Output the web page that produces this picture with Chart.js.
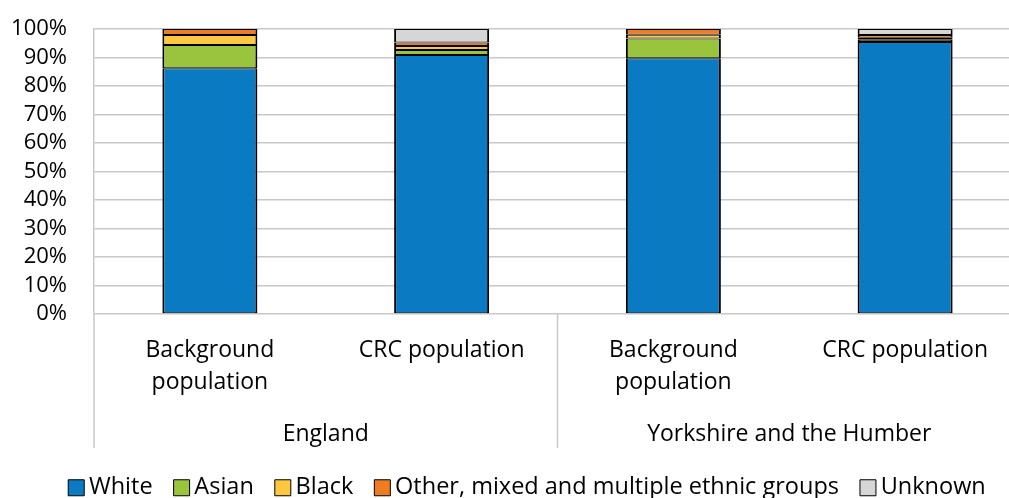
<!DOCTYPE html>
<html>
<head>
<meta charset="utf-8">
<script src="https://cdn.jsdelivr.net/npm/chart.js@4/dist/chart.umd.min.js"></script>
<style>
  html, body { margin: 0; padding: 0; overflow: hidden; background: #fff; }
  canvas { display: block; }
</style>
</head>
<body>
<canvas id="chart" width="1021" height="498"></canvas>
<script>
// Categories along the bottom axis, grouped by area
const categories = [['Background', 'population'], 'CRC population', ['Background', 'population'], 'CRC population'];
const groups = ['England', 'Yorkshire and the Humber'];
const groupSize = 2;

// Share of each ethnic group (%), stacked bottom to top
const white      = [86.2, 90.9, 89.7, 95.4];
const asian      = [8.2, 1.7, 7.0, 0.8];
const black      = [3.5, 1.4, 1.3, 0.7];
const otherMixed = [2.1, 1.3, 2.0, 1.0];
const unknown    = [0, 4.7, 0, 2.1];

const seriesNames = ['White', 'Asian', 'Black', 'Other, mixed and multiple ethnic groups', 'Unknown'];
const seriesColors = ['#0a7bc2', '#9ac43d', '#fdc83f', '#ee7d21', '#d6d6d6'];

const FONT = "'Open Sans', 'Liberation Sans', sans-serif";
const GRID = '#c8c8c8';
const PLOT_BOTTOM = 314;

// Group names under the category labels, with separators between groups
const groupLabels = {
  id: 'groupLabels',
  afterDraw(chart) {
    const { ctx, chartArea, scales: { x } } = chart;
    const half = (x.getPixelForValue(1) - x.getPixelForValue(0)) / 2;
    const y0 = chartArea.bottom;
    const y1 = chartArea.bottom + 134;
    ctx.save();
    ctx.strokeStyle = GRID;
    ctx.lineWidth = 1.5;
    for (let g = 0; g <= groups.length; g++) {
      const idx = g * groupSize;
      const px = idx < categories.length ? x.getPixelForValue(idx) - half
                                         : x.getPixelForValue(categories.length - 1) + half;
      ctx.beginPath();
      ctx.moveTo(px, y0);
      ctx.lineTo(px, y1);
      ctx.stroke();
    }
    ctx.fillStyle = '#000';
    ctx.font = '23px ' + FONT;
    ctx.textAlign = 'center';
    ctx.textBaseline = 'middle';
    groups.forEach((name, g) => {
      const a = x.getPixelForValue(g * groupSize);
      const b = x.getPixelForValue(g * groupSize + groupSize - 1);
      ctx.fillText(name, (a + b) / 2, chartArea.bottom + 120);
    });
    ctx.restore();
  }
};

// Place the legend row along the bottom edge
const legendPlacement = {
  id: 'legendPlacement',
  afterLayout(chart) {
    const lg = chart.legend;
    if (!lg) return;
    const dx = 20;
    const dy = 448 - lg.top;
    lg.left += dx; lg.right += dx;
    lg.top += dy; lg.bottom += dy;
  }
};

const values = [white, asian, black, otherMixed, unknown];

new Chart(document.getElementById('chart'), {
  type: 'bar',
  data: {
    labels: categories,
    datasets: values.map((v, i) => ({
      label: seriesNames[i],
      data: v,
      backgroundColor: seriesColors[i],
      borderColor: '#000',
      borderWidth: { top: 1, bottom: 1, left: 2, right: 2 },
      borderSkipped: false,
      barPercentage: 0.41,
      categoryPercentage: 1
    }))
  },
  options: {
    responsive: false,
    animation: false,
    layout: { padding: { top: 29, left: 0, right: 0, bottom: 0 } },
    plugins: {
      legend: {
        position: 'bottom',
        labels: {
          color: '#000',
          font: { family: FONT, size: 23.5 },
          usePointStyle: true,
          pointStyle: 'rect',
          boxWidth: 2,
          boxHeight: 16,
          padding: 28,
          generateLabels(chart) {
            return chart.data.datasets.map((ds, i) => ({
              text: ds.label,
              fillStyle: ds.backgroundColor,
              strokeStyle: '#000',
              lineWidth: 1,
              pointStyle: 'rect',
              hidden: false,
              datasetIndex: i,
              fontColor: '#000'
            }));
          }
        }
      },
      tooltip: { enabled: false }
    },
    scales: {
      x: {
        stacked: true,
        grid: { display: false, drawTicks: false },
        border: { display: false },
        ticks: {
          color: '#000',
          font: { family: FONT, size: 23, lineHeight: 1.4 },
          padding: 20,
          maxRotation: 0,
          autoSkip: false
        },
        afterFit(scale) {
          const legendH = scale.chart.legend ? scale.chart.legend.height : 0;
          scale.height = scale.chart.height - PLOT_BOTTOM - legendH;
        }
      },
      y: {
        stacked: true,
        min: 0,
        max: 100,
        grid: { color: GRID, lineWidth: 1.5, drawTicks: true, tickLength: 27, tickColor: 'rgba(0,0,0,0)' },
        border: { display: true, color: GRID, width: 1.5 },
        ticks: {
          stepSize: 10,
          autoSkip: false,
          color: '#000',
          font: { family: FONT, size: 22 },
          padding: 0,
          callback: v => v + '%'
        },
        afterFit(scale) { scale.width = 94; }
      }
    }
  },
  plugins: [groupLabels, legendPlacement]
});
</script>
</body>
</html>
